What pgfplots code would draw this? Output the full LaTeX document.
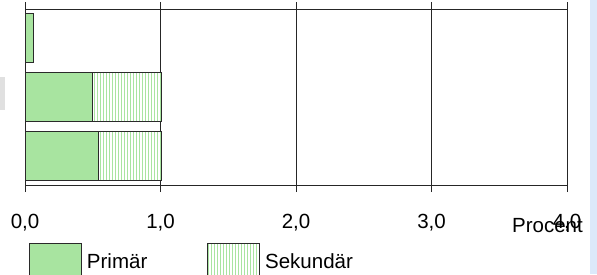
\documentclass[border=0pt]{standalone}
\usepackage{pgfplots}
\pgfplotsset{compat=1.18}
\usepackage{fontspec}
\setmainfont{Liberation Sans}
\usetikzlibrary{patterns}
\definecolor{prim}{HTML}{A8E4A0}
\definecolor{stripe}{HTML}{A8E4A0}
\definecolor{edge}{HTML}{2A2A2A}
\definecolor{bluestrip}{HTML}{DCE9FA}
\definecolor{greybox}{HTML}{E0E0E0}
\pgfdeclarepatternformonly{vstripes}{\pgfqpoint{0pt}{-1pt}}{\pgfqpoint{3pt}{31pt}}{\pgfqpoint{3pt}{30pt}}{%
  \pgfsetlinewidth{1.6pt}%
  \pgfpathmoveto{\pgfqpoint{1.5pt}{-1pt}}%
  \pgfpathlineto{\pgfqpoint{1.5pt}{31pt}}%
  \pgfusepath{stroke}}
\begin{document}
\fontsize{20.5pt}{24pt}\selectfont
\begin{tikzpicture}
\fill[bluestrip] (590pt,0pt) rectangle (597pt,274pt);
\fill[greybox] (0pt,164pt) rectangle (5pt,197pt);
\begin{axis}[
  at={(25pt,89pt)}, anchor=south west,
  scale only axis, width=542pt, height=176pt,
  xbar stacked,
  bar width=0.83,
  xmin=0, xmax=4, ymin=-0.5, ymax=2.483,
  xtick={0,1,2,3,4},
  xticklabels={{0,0},{1,0},{2,0},{3,0},{4,0}},
  ytick=\empty,
  xmajorgrids,
  major grid style={black!85, line width=0.8pt},
  axis line style={black!85, line width=0.8pt},
  tick style={black!85, line width=0.8pt},
  x tick label style={yshift=-15pt, font=\fontsize{20.5pt}{24pt}\selectfont},
  /pgf/number format/assume math mode=true,
  tick align=outside, major tick length=7pt,
  xlabel={Procent},
  xlabel style={at={(axis description cs:1,0)}, anchor=base east, xshift=16pt, yshift=-47pt, inner sep=0pt, font=\fontsize{20.5pt}{24pt}\selectfont},
  legend columns=2,
  legend style={draw=none, fill=none, at={(axis description cs:0,0)}, anchor=north west,
    xshift=4pt, yshift=-58pt, inner sep=0pt, font=\fontsize{20.5pt}{24pt}\selectfont,
    /tikz/every even column/.append style={column sep=58pt}},
  legend image code/.code={\draw[#1] (0pt,-17pt) rectangle (52pt,19pt); \path (55pt,0pt);},
]
\addplot[fill=prim, draw=edge, line width=0.8pt] coordinates {(0.54,0) (0.50,1) (0.06,2)};
\addlegendentry{Primär}
\addplot[pattern=vstripes, pattern color=stripe, draw=edge, line width=0.8pt] coordinates {(0.47,0) (0.51,1) (0,2)};
\addlegendentry{Sekundär}
\end{axis}
\pgfresetboundingbox
\path[use as bounding box] (0pt,0pt) rectangle (597pt,274pt);
\end{tikzpicture}
\end{document}
